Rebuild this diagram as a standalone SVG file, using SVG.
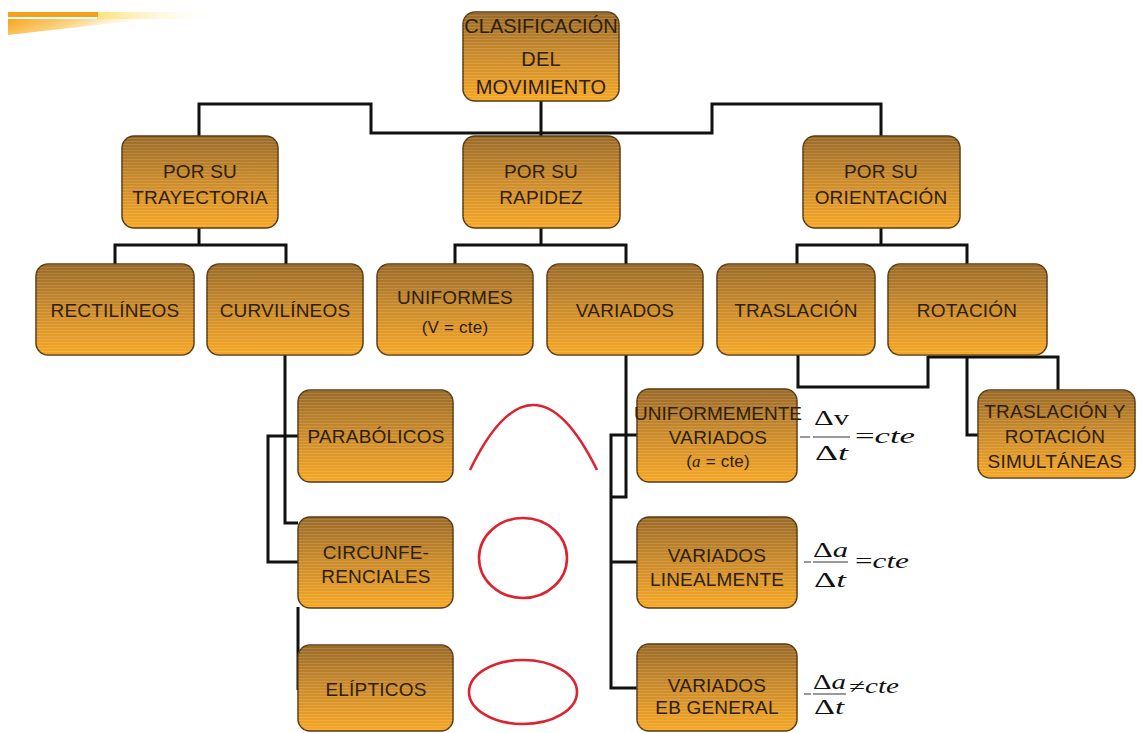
<svg xmlns="http://www.w3.org/2000/svg" width="1137" height="733" viewBox="0 0 1137 733">
<defs>
<linearGradient id="g" x1="0" y1="0" x2="0" y2="1">
<stop offset="0" stop-color="#9a6a28"/>
<stop offset="0.45" stop-color="#c8892b"/>
<stop offset="1" stop-color="#f6a725"/>
</linearGradient>
<pattern id="st" width="8" height="3" patternUnits="userSpaceOnUse">
<rect x="0" y="0" width="8" height="1" fill="#ffffff" fill-opacity="0.13"/>
</pattern>
<linearGradient id="sw1" x1="0" y1="0" x2="1" y2="0">
<stop offset="0" stop-color="#fbe27a"/>
<stop offset="1" stop-color="#ffffff" stop-opacity="0"/>
</linearGradient>
<linearGradient id="sw2" x1="0" y1="0" x2="1" y2="0.3">
<stop offset="0" stop-color="#f8a51e"/>
<stop offset="0.5" stop-color="#fbd78a"/>
<stop offset="1" stop-color="#ffffff" stop-opacity="0"/>
</linearGradient>
</defs>
<style>
.b{fill:url(#g);stroke:#5a3a12;stroke-width:1.5}
.s{fill:url(#st)}
.t{font-family:"Liberation Sans",Arial,sans-serif;font-size:19px;letter-spacing:0.2px;fill:#2e2008;text-anchor:middle}
.c{fill:none;stroke:#111;stroke-width:3}
.r{fill:none;stroke:#dd2230;stroke-width:2.6}
.f{font-family:"Liberation Serif","Times New Roman",serif;font-size:22px;fill:#111}
.fl{stroke:#777;stroke-width:1.5}
</style>
<rect width="1137" height="733" fill="#ffffff"/>
<g id="swoosh">
<rect x="97" y="12" width="125" height="7" fill="url(#sw1)"/>
<rect x="8" y="12" width="90" height="5" fill="#f7a11b"/>
<polygon points="8,19 150,19 8,35" fill="url(#sw2)"/>
</g>
<g id="connectors">
<path class="c" d="M541,101 V136"/>
<path class="c" d="M199,136 V104 H371 V133 H712 V104 H881 V136"/>
<path class="c" d="M199,228 V245"/>
<path class="c" d="M115,264 V245 H286 V264"/>
<path class="c" d="M541,228 V245"/>
<path class="c" d="M455,264 V245 H626 V264"/>
<path class="c" d="M881,228 V245"/>
<path class="c" d="M797,264 V245 H967 V264"/>
<path class="c" d="M798,355 V387 H928 V356"/>
<path class="c" d="M928,357 H1058 V390"/>
<path class="c" d="M967,357 V435 H980"/>
<path class="c" d="M285,355 V523 H298"/>
<path class="c" d="M298,436 H268 V562 H298"/>
<path class="c" d="M298,607 V690"/>
<path class="c" d="M626,355 V497 H611"/>
<path class="c" d="M640,435 H611 V688 H640"/>
<path class="c" d="M611,562 H640"/>
</g>
<g id="n-root"><rect class="b" x="463" y="12" width="156" height="89" rx="12"/><rect class="s" x="463" y="12" width="156" height="89" rx="12"/>
<text class="t" x="541" y="33" style="font-size:20px;letter-spacing:0">CLASIFICACIÓN</text><text class="t" x="541" y="66" style="font-size:20px">DEL</text><text class="t" x="541" y="94" style="font-size:20px">MOVIMIENTO</text></g>
<g id="n-trayectoria"><rect class="b" x="122" y="136" width="156" height="92" rx="12"/><rect class="s" x="122" y="136" width="156" height="92" rx="12"/>
<text class="t" x="200" y="178">POR SU</text><text class="t" x="200" y="204">TRAYECTORIA</text></g>
<g id="n-rapidez"><rect class="b" x="463" y="136" width="157" height="92" rx="12"/><rect class="s" x="463" y="136" width="157" height="92" rx="12"/>
<text class="t" x="541" y="178">POR SU</text><text class="t" x="541" y="204">RAPIDEZ</text></g>
<g id="n-orientacion"><rect class="b" x="803" y="136" width="157" height="92" rx="12"/><rect class="s" x="803" y="136" width="157" height="92" rx="12"/>
<text class="t" x="881" y="178">POR SU</text><text class="t" x="881" y="204">ORIENTACIÓN</text></g>
<g id="n-rectilineos"><rect class="b" x="36" y="264" width="158" height="91" rx="12"/><rect class="s" x="36" y="264" width="158" height="91" rx="12"/>
<text class="t" x="115" y="317">RECTILÍNEOS</text></g>
<g id="n-curvilineos"><rect class="b" x="207" y="264" width="156" height="91" rx="12"/><rect class="s" x="207" y="264" width="156" height="91" rx="12"/>
<text class="t" x="285" y="317">CURVILÍNEOS</text></g>
<g id="n-uniformes"><rect class="b" x="377" y="264" width="156" height="91" rx="12"/><rect class="s" x="377" y="264" width="156" height="91" rx="12"/>
<text class="t" x="455" y="304">UNIFORMES</text><text class="t" x="455" y="333" style="font-size:17px">(V = cte)</text></g>
<g id="n-variados"><rect class="b" x="547" y="264" width="156" height="91" rx="12"/><rect class="s" x="547" y="264" width="156" height="91" rx="12"/>
<text class="t" x="625" y="317">VARIADOS</text></g>
<g id="n-traslacion"><rect class="b" x="717" y="264" width="158" height="91" rx="12"/><rect class="s" x="717" y="264" width="158" height="91" rx="12"/>
<text class="t" x="796" y="317">TRASLACIÓN</text></g>
<g id="n-rotacion"><rect class="b" x="888" y="264" width="159" height="91" rx="12"/><rect class="s" x="888" y="264" width="159" height="91" rx="12"/>
<text class="t" x="967" y="317">ROTACIÓN</text></g>
<g id="n-trasrot"><rect class="b" x="978" y="390" width="157" height="88" rx="12"/><rect class="s" x="978" y="390" width="157" height="88" rx="12"/>
<text class="t" x="1055" y="418">TRASLACIÓN Y</text><text class="t" x="1055" y="443">ROTACIÓN</text><text class="t" x="1055" y="468">SIMULTÁNEAS</text></g>
<g id="n-parabolicos"><rect class="b" x="298" y="390" width="155" height="92" rx="12"/><rect class="s" x="298" y="390" width="155" height="92" rx="12"/>
<text class="t" x="376" y="443">PARABÓLICOS</text></g>
<g id="n-circunf"><rect class="b" x="298" y="517" width="155" height="91" rx="12"/><rect class="s" x="298" y="517" width="155" height="91" rx="12"/>
<text class="t" x="376" y="559">CIRCUNFE-</text><text class="t" x="376" y="583">RENCIALES</text></g>
<g id="n-elipticos"><rect class="b" x="298" y="645" width="155" height="86" rx="12"/><rect class="s" x="298" y="645" width="155" height="86" rx="12"/>
<text class="t" x="376" y="696">ELÍPTICOS</text></g>
<g id="n-unifvar"><rect class="b" x="637" y="389" width="160" height="93" rx="12"/><rect class="s" x="637" y="389" width="160" height="93" rx="12"/>
<text class="t" x="718" y="420" style="letter-spacing:0">UNIFORMEMENTE</text><text class="t" x="718" y="444">VARIADOS</text><text class="t" x="718" y="467" style="font-size:17px">(<tspan font-style="italic" font-family="Liberation Serif">a</tspan> = cte)</text></g>
<g id="n-varlin"><rect class="b" x="637" y="517" width="160" height="91" rx="12"/><rect class="s" x="637" y="517" width="160" height="91" rx="12"/>
<text class="t" x="717" y="562">VARIADOS</text><text class="t" x="717" y="586">LINEALMENTE</text></g>
<g id="n-vargen"><rect class="b" x="637" y="644" width="160" height="87" rx="12"/><rect class="s" x="637" y="644" width="160" height="87" rx="12"/>
<text class="t" x="717" y="692">VARIADOS</text><text class="t" x="717" y="714">EB GENERAL</text></g>
<g id="shapes">
<path class="r" d="M470,470 Q533,340 597,470"/>
<ellipse class="r" cx="523" cy="558" rx="44" ry="40"/>
<ellipse class="r" cx="523" cy="692" rx="54" ry="32"/>
</g>
<g id="formulas">
<line class="fl" x1="800" y1="437" x2="810" y2="437"/>
<line class="fl" x1="813" y1="437" x2="850" y2="437"/>
<text class="f" x="814" y="425" textLength="35" lengthAdjust="spacingAndGlyphs">Δv</text>
<text class="f" x="815" y="460" textLength="33" lengthAdjust="spacingAndGlyphs">Δ<tspan font-style="italic">t</tspan></text>
<text class="f" x="855" y="443" textLength="60" lengthAdjust="spacingAndGlyphs">=<tspan font-style="italic">cte</tspan></text>
<line class="fl" x1="804" y1="562" x2="811" y2="562"/>
<line class="fl" x1="813" y1="562" x2="848" y2="562"/>
<text class="f" x="813" y="557" textLength="35" lengthAdjust="spacingAndGlyphs">Δ<tspan font-style="italic">a</tspan></text>
<text class="f" x="814" y="587" textLength="32" lengthAdjust="spacingAndGlyphs">Δ<tspan font-style="italic">t</tspan></text>
<text class="f" x="855" y="568" textLength="54" lengthAdjust="spacingAndGlyphs">=<tspan font-style="italic">cte</tspan></text>
<line class="fl" x1="804" y1="694" x2="811" y2="694"/>
<line class="fl" x1="813" y1="694" x2="846" y2="694"/>
<text class="f" x="813" y="689" textLength="33" lengthAdjust="spacingAndGlyphs" style="font-size:20px">Δ<tspan font-style="italic">a</tspan></text>
<text class="f" x="814" y="714" textLength="30" lengthAdjust="spacingAndGlyphs" style="font-size:20px">Δ<tspan font-style="italic">t</tspan></text>
<text class="f" x="849" y="693" textLength="50" lengthAdjust="spacingAndGlyphs" style="font-size:20px">≠<tspan font-style="italic">cte</tspan></text>
</g>
</svg>
